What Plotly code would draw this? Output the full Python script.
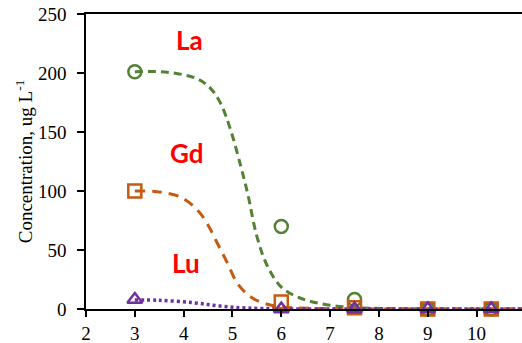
import plotly.graph_objects as go

# measured points
ph = [3, 6, 7.5, 9, 10.3]
la = [201, 70, 8, 0, 0]
gd = [100, 6, 1, 0, 0]
lu = [8, 0, 0, 0, 0]

# fitted curves
la_fit_x = [3.0, 3.7, 4.28, 4.55, 4.76, 4.96, 5.17, 5.31, 5.51, 5.72, 5.99, 6.34, 6.81, 7.5, 9.0, 11.0]
la_fit_y = [201, 200.5, 195, 187, 174, 152, 121, 98, 60, 36, 19, 10, 4.5, 1.2, 0.2, 0]
gd_fit_x = [3.0, 3.45, 3.93, 4.28, 4.48, 4.69, 4.90, 5.10, 5.37, 5.65, 6.0, 7.0, 9.0, 11.0]
gd_fit_y = [100, 99.4, 95, 84, 72.6, 55.7, 38.7, 21.8, 10.4, 4.8, 1.8, 0.3, 0, 0]
lu_fit_x = [3.0, 3.5, 4.2, 4.75, 5.3, 6.0, 7.0, 9.0, 11.0]
lu_fit_y = [7.6, 7.4, 5.3, 2.5, 0.8, 0.2, 0, 0, 0]

labels = ["La", "Gd", "Lu"]
label_x = [4.12, 4.07, 4.05]
label_y = [228, 132, 39]

green = "#548235"
orange = "#c55a11"
purple = "#7030a0"
serif = "Liberation Serif, Times New Roman, serif"

fig = go.Figure()
fig.add_trace(go.Scatter(x=la_fit_x, y=la_fit_y, mode="lines", line=dict(color=green, width=3, dash="8px,5px", shape="spline"), cliponaxis=False))
fig.add_trace(go.Scatter(x=gd_fit_x, y=gd_fit_y, mode="lines", line=dict(color=orange, width=3, dash="10px,7px", shape="spline"), cliponaxis=False))
fig.add_trace(go.Scatter(x=lu_fit_x, y=lu_fit_y, mode="lines", line=dict(color=purple, width=3.5, dash="3px,3px", shape="spline"), cliponaxis=False))
fig.add_trace(go.Scatter(x=ph, y=la, mode="markers", marker=dict(symbol="circle-open", size=13, color=green, line=dict(width=2.5)), cliponaxis=False))
fig.add_trace(go.Scatter(x=ph, y=gd, mode="markers", marker=dict(symbol="square-open", size=13, color=orange, line=dict(width=2.5)), cliponaxis=False))
fig.add_trace(go.Scatter(x=ph, y=lu, mode="markers", marker=dict(symbol="triangle-up-open", size=13, color=purple, line=dict(width=2.5)), cliponaxis=False))

for t, xx, yy in zip(labels, label_x, label_y):
    fig.add_annotation(x=xx, y=yy, text="<b>" + t + "</b>", showarrow=False,
                       font=dict(family="Lato", size=26, color="#ff0000"))

fig.update_layout(
    width=522, height=343,
    margin=dict(l=86, r=0, t=14, b=34),
    plot_bgcolor="white", paper_bgcolor="white",
    showlegend=False,
    font=dict(family=serif, size=17, color="black"),
)
fig.update_xaxes(range=[2, 10.93], tickvals=[2, 3, 4, 5, 6, 7, 8, 9, 10, 11], showgrid=False, zeroline=False,
                 showline=True, linecolor="black", linewidth=1.5, mirror=True,
                 ticks="outside", ticklen=6, tickcolor="black", tickwidth=1.5,
                 tickfont=dict(family=serif, size=19, color="black"))
fig.update_yaxes(range=[0, 250], tickvals=[0, 50, 100, 150, 200, 250], showgrid=False, zeroline=False,
                 showline=True, linecolor="black", linewidth=1.5,
                 ticks="outside", ticklen=7, tickcolor="black", tickwidth=1.5,
                 tickfont=dict(family=serif, size=19, color="black"), ticklabelstandoff=7,
                 title=dict(text="Concentration, ug L<sup>-1</sup>", font=dict(family=serif, size=19, color="black"), standoff=0))

fig.write_html("out.html")
